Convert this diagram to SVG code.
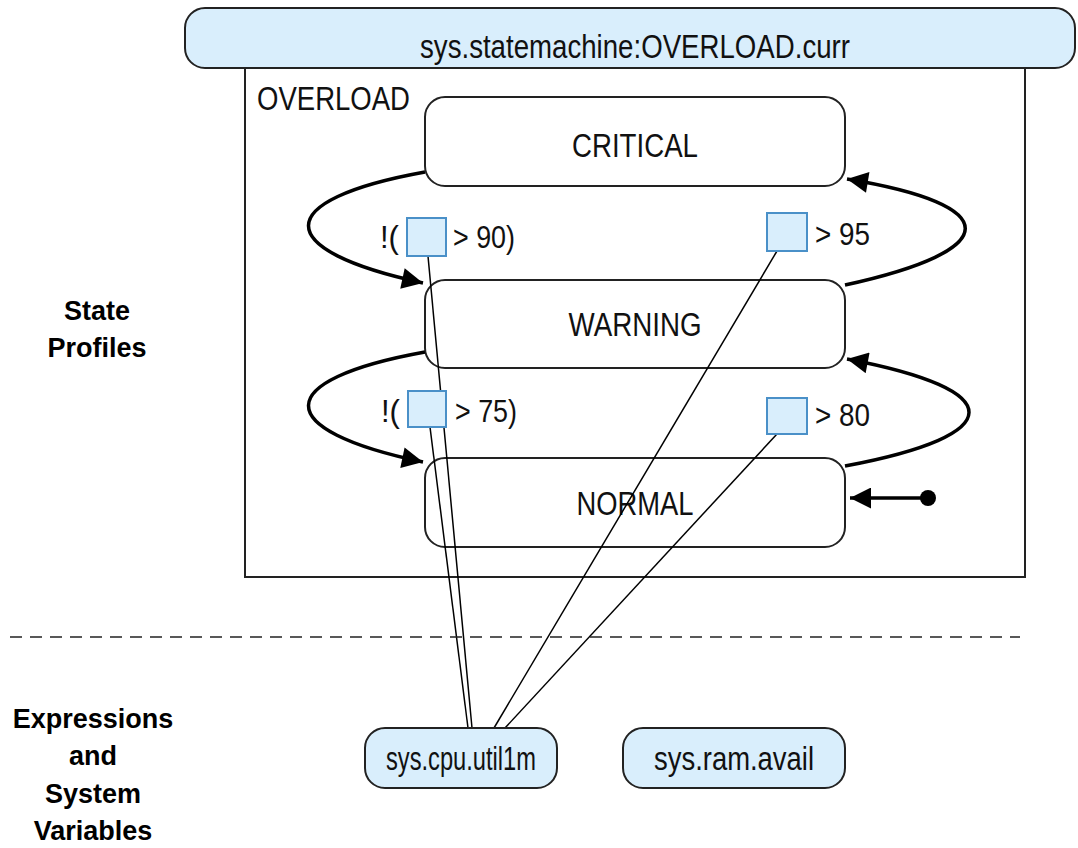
<svg xmlns="http://www.w3.org/2000/svg" width="1078" height="848" viewBox="0 0 1078 848">
<defs>
<style>
.t{font-family:"Liberation Sans",Arial,sans-serif;font-size:33px;fill:#111}
.s{font-family:"Liberation Sans",Arial,sans-serif;font-size:31px;fill:#111}
.b{font-family:"Liberation Sans",Arial,sans-serif;font-size:27px;font-weight:bold;fill:#000;text-anchor:middle}
.state{fill:#fff;stroke:#222;stroke-width:2}
.var{fill:#d9eefc;stroke:#222;stroke-width:2}
.cond{fill:#d9eefc;stroke:#4a90c8;stroke-width:2}
.arc{fill:none;stroke:#000;stroke-width:3.5}
.ln{fill:none;stroke:#000;stroke-width:1.5}
</style>
<marker id="ah" viewBox="0 0 10 10" refX="10" refY="5" markerWidth="7" markerHeight="6" markerUnits="strokeWidth" orient="auto">
<path d="M0,0 L10,5 L0,10 z" fill="#000"/>
</marker>
</defs>
<rect width="1078" height="848" fill="#fff"/>

<g id="overload-frame">
<rect x="245" y="60" width="780" height="517" fill="#fff" stroke="#222" stroke-width="2"/>
<text class="t" x="257" y="110" textLength="153" lengthAdjust="spacingAndGlyphs">OVERLOAD</text>
</g>

<g id="statemachine-var">
<rect class="var" x="185" y="8" width="890" height="60" rx="20"/>
<text class="t" x="635" y="58" text-anchor="middle" textLength="430" lengthAdjust="spacingAndGlyphs">sys.statemachine:OVERLOAD.curr</text>
</g>

<g id="critical">
<rect class="state" x="425" y="97" width="420" height="89" rx="20"/>
<text class="t" x="635" y="157" text-anchor="middle" textLength="126" lengthAdjust="spacingAndGlyphs">CRITICAL</text>
</g>
<g id="warning">
<rect class="state" x="425" y="280" width="420" height="88" rx="20"/>
<text class="t" x="635" y="336" text-anchor="middle" textLength="133" lengthAdjust="spacingAndGlyphs">WARNING</text>
</g>
<g id="normal">
<rect class="state" x="425" y="458" width="420" height="89" rx="20"/>
<text class="t" x="635" y="515" text-anchor="middle" textLength="117" lengthAdjust="spacingAndGlyphs">NORMAL</text>
</g>

<g id="connectors">
<path class="arc" d="M425,172 C270,200 270,250 423,283" marker-end="url(#ah)"/>
<path class="arc" d="M425,352 C270,380 270,430 423,462" marker-end="url(#ah)"/>
<path class="arc" d="M845,285 C1005,250 1005,205 847,179" marker-end="url(#ah)"/>
<path class="arc" d="M845,466 C1010,435 1010,390 847,359" marker-end="url(#ah)"/>
<line class="arc" x1="928" y1="498" x2="850" y2="498" marker-end="url(#ah)"/>
<circle cx="928" cy="498" r="8" fill="#000"/>
<line class="ln" x1="428" y1="256" x2="472" y2="728"/>
<line class="ln" x1="430" y1="427" x2="468" y2="728"/>
<line class="ln" x1="777" y1="251" x2="494" y2="728"/>
<line class="ln" x1="777" y1="434" x2="505" y2="728"/>
</g>

<g id="cond-critical-exit">
<text class="s" x="380" y="248">!(</text>
<rect class="cond" x="407" y="218" width="39" height="38"/>
<text class="s" x="453" y="248" textLength="62" lengthAdjust="spacingAndGlyphs">&gt; 90)</text>
</g>
<g id="cond-critical-enter">
<rect class="cond" x="767" y="213" width="40" height="38"/>
<text class="s" x="815" y="245" textLength="55" lengthAdjust="spacingAndGlyphs">&gt; 95</text>
</g>
<g id="cond-warning-exit">
<text class="s" x="381" y="422">!(</text>
<rect class="cond" x="408" y="391" width="38" height="36"/>
<text class="s" x="455" y="422" textLength="62" lengthAdjust="spacingAndGlyphs">&gt; 75)</text>
</g>
<g id="cond-warning-enter">
<rect class="cond" x="767" y="398" width="40" height="36"/>
<text class="s" x="815" y="426" textLength="55" lengthAdjust="spacingAndGlyphs">&gt; 80</text>
</g>

<line x1="10" y1="637" x2="1020" y2="637" stroke="#222" stroke-width="1.5" stroke-dasharray="12,8"/>

<g id="label-state-profiles">
<text class="b" x="97" y="320">State</text>
<text class="b" x="97" y="357">Profiles</text>
</g>
<g id="label-expressions">
<text class="b" x="93" y="728">Expressions</text>
<text class="b" x="93" y="765">and</text>
<text class="b" x="93" y="803">System</text>
<text class="b" x="93" y="840">Variables</text>
</g>

<g id="cpu-util">
<rect class="var" x="365" y="728" width="192" height="60" rx="20"/>
<text class="t" x="461" y="770" text-anchor="middle" textLength="150" lengthAdjust="spacingAndGlyphs">sys.cpu.util1m</text>
</g>
<g id="ram-avail">
<rect class="var" x="623" y="728" width="222" height="60" rx="20"/>
<text class="t" x="734" y="770" text-anchor="middle" textLength="160" lengthAdjust="spacingAndGlyphs">sys.ram.avail</text>
</g>
</svg>
